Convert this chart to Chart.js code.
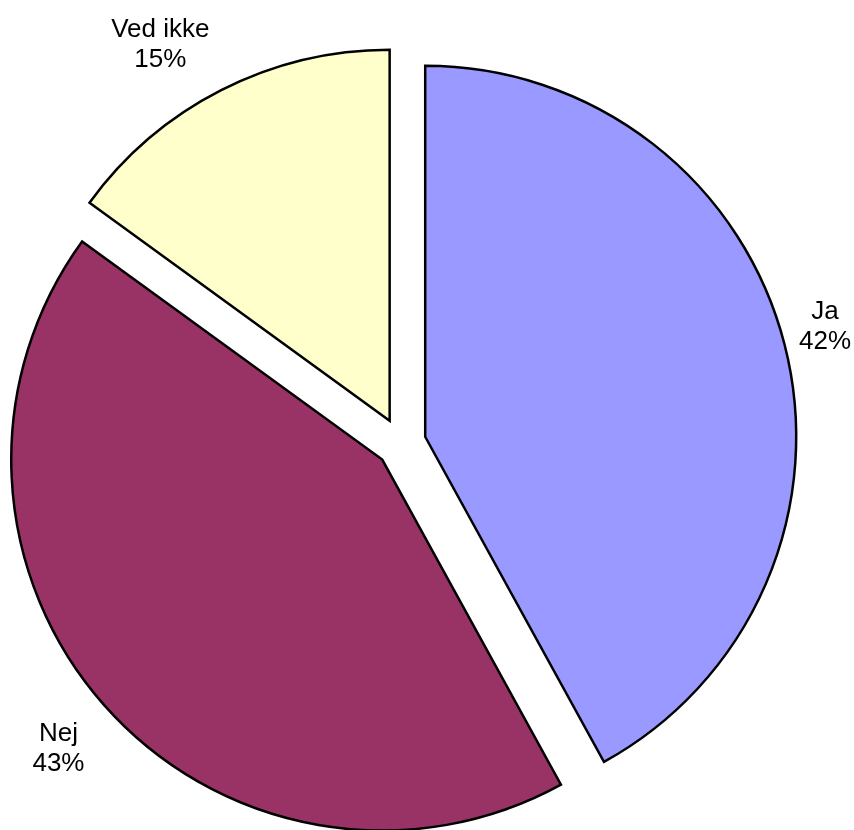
<!DOCTYPE html>
<html>
<head>
<meta charset="utf-8">
<script src="https://cdn.jsdelivr.net/npm/chart.js@4/dist/chart.umd.min.js"></script>
<style>
  html, body { margin: 0; padding: 0; background: #fff; }
  #wrap { width: 854px; height: 830px; }
</style>
</head>
<body>
<div id="wrap"><canvas id="pie"></canvas></div>
<script>
/* DATA */
const categories = ['Ja', 'Nej', 'Ved ikke'];
const values = [42, 43, 15];
const colors = ['#9999FF', '#993366', '#FFFFCC'];

const total = values.reduce((a, b) => a + b, 0);
const shares = values.map(v => Math.round(v / total * 100));

/* PLUGINS */
// every slice pulled out from the centre by the same distance
const explode = {
    id: 'explode',
    beforeDatasetDraw(chart, args, opts) {
        const ctx = chart.ctx;
        args.meta.data.forEach(arc => {
            const mid = (arc.startAngle + arc.endAngle) / 2;
            ctx.save();
            ctx.translate(Math.cos(mid) * opts.distance, Math.sin(mid) * opts.distance);
            arc.draw(ctx);
            ctx.restore();
        });
        return false;
    }
};

// "name / xx%" labels just outside each slice, kept inside the canvas
const outsideLabels = {
    id: 'outsideLabels',
    afterDatasetsDraw(chart, args, opts) {
        const ctx = chart.ctx;
        const meta = chart.getDatasetMeta(0);
        const pull = chart.options.plugins.explode.distance;
        const clamp = v => Math.max(-1, Math.min(1, v));
        const cap = opts.size * 0.716;
        ctx.save();
        ctx.font = opts.size + 'px ' + opts.family;
        ctx.fillStyle = '#000';
        ctx.textAlign = 'center';
        ctx.textBaseline = 'alphabetic';
        meta.data.forEach((arc, i) => {
            const mid = (arc.startAngle + arc.endAngle) / 2;
            const cos = Math.cos(mid), sin = Math.sin(mid);
            const lines = [categories[i], shares[i] + '%'];
            const hw = Math.max(...lines.map(l => ctx.measureText(l).width)) / 2;
            const hh = ((lines.length - 1) * opts.lineHeight + cap) / 2;
            const ex = arc.x + cos * pull, ey = arc.y + sin * pull;
            const r = arc.outerRadius + opts.gap;
            let x = ex + cos * r + hw * clamp(cos * opts.k);
            let y = ey + sin * r + hh * clamp(sin * opts.k);
            x = Math.max(hw + opts.margin, Math.min(chart.width - hw - opts.margin, x));
            y = Math.max(hh + opts.margin, Math.min(chart.height - hh - opts.margin, y));
            const top = y - hh;
            lines.forEach((l, j) => ctx.fillText(l, x, top + cap + j * opts.lineHeight));
        });
        ctx.restore();
    }
};

/* CHART */
const data = {
    labels: categories,
    datasets: [{
        data: values,
        backgroundColor: colors,
        borderColor: '#000',
        borderWidth: 2.5,
        borderJoinStyle: 'miter',
        offset: 0,
        radius: 371
    }]
};

const config = {
    type: 'pie',
    data,
    options: {
        responsive: true,
        maintainAspectRatio: false,
        animation: false,
        layout: {
            padding: { left: 0, right: 52, top: 56, bottom: 0 }
        },
        plugins: {
            legend: { display: false },
            tooltip: { enabled: false },
            explode: { distance: 25 },
            outsideLabels: {
                size: 26,
                family: '"Liberation Sans", Arial, sans-serif',
                lineHeight: 30,
                gap: 26,
                k: 2.2,
                margin: 3
            }
        }
    },
    plugins: [explode, outsideLabels]
};

let myChart = new Chart(document.getElementById('pie'), config);
</script>
</body>
</html>
